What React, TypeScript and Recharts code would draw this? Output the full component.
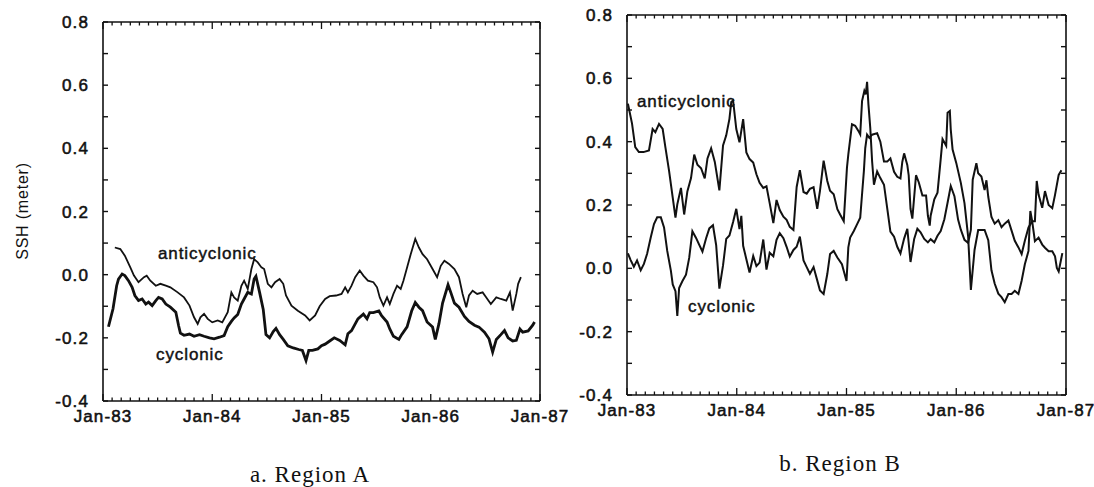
import React from "react";
import { LineChart, Line, XAxis, YAxis } from "recharts";

const INK = "#111";
const SANS = "'Liberation Sans', Arial, Helvetica, sans-serif";
const SERIF = "'Liberation Serif', 'Times New Roman', serif";

// x is months since Jan-83
const xTicks = Array.from({ length: 49 }, (_, i) => i);
const yearLabels: Record<number, string> = {
  0: "Jan-83",
  12: "Jan-84",
  24: "Jan-85",
  36: "Jan-86",
  48: "Jan-87",
};
const yTicks = [-0.4, -0.3, -0.2, -0.1, 0, 0.1, 0.2, 0.3, 0.4, 0.5, 0.6, 0.7, 0.8];
const yLabels: Record<string, string> = {
  "-0.4": "-0.4",
  "-0.2": "-0.2",
  "0.0": "0.0",
  "0.2": "0.2",
  "0.4": "0.4",
  "0.6": "0.6",
  "0.8": "0.8",
};

// Region A
const aAntiMonths = [1.3, 1.9, 2.4, 3.0, 3.4, 3.9, 4.5, 4.8, 5.2, 5.8, 6.3, 6.9, 7.4, 8.2, 8.9, 9.5, 10.0, 10.4, 10.7, 11.1, 11.5, 12.0, 12.6, 13.1, 13.7, 14.1, 14.4, 14.8, 15.2, 15.5, 15.9, 16.3, 16.6, 17.0, 17.4, 17.7, 18.1, 18.5, 18.9, 19.4, 19.8, 20.1, 20.7, 21.4, 22.2, 22.7, 23.3, 23.8, 24.4, 24.9, 25.6, 26.2, 26.6, 26.9, 27.3, 27.7, 28.2, 28.6, 29.1, 29.7, 30.1, 30.4, 30.8, 31.2, 31.5, 31.9, 32.3, 32.7, 33.0, 33.4, 33.8, 34.3, 34.7, 35.1, 35.6, 36.2, 36.7, 37.1, 37.5, 38.0, 38.6, 39.1, 39.5, 39.9, 40.2, 40.6, 41.1, 41.7, 42.1, 42.6, 43.2, 43.7, 44.3, 44.7, 45.0, 45.4, 45.6, 45.9];
const aAntiValues = [0.086, 0.081, 0.06, 0.023, -0.003, -0.024, -0.008, -0.003, -0.019, -0.035, -0.029, -0.035, -0.04, -0.056, -0.072, -0.098, -0.135, -0.156, -0.135, -0.124, -0.14, -0.151, -0.145, -0.151, -0.119, -0.056, -0.072, -0.082, -0.035, -0.019, -0.045, 0.018, 0.049, 0.039, 0.023, 0.018, -0.029, -0.04, -0.024, -0.014, -0.029, -0.066, -0.098, -0.114, -0.129, -0.145, -0.129, -0.1, -0.077, -0.068, -0.066, -0.061, -0.04, -0.056, -0.035, -0.008, 0.013, -0.003, -0.019, -0.024, -0.04, -0.072, -0.098, -0.072, -0.093, -0.061, -0.035, -0.045, -0.019, 0.023, 0.065, 0.113, 0.086, 0.065, 0.049, 0.018, -0.008, 0.028, 0.044, 0.034, 0.018, -0.008, -0.061, -0.103, -0.066, -0.051, -0.061, -0.056, -0.072, -0.093, -0.072, -0.077, -0.082, -0.056, -0.114, -0.061, -0.029, -0.008];

const aCycMonths = [0.6, 1.1, 1.5, 1.7, 2.1, 2.4, 2.8, 3.2, 3.5, 3.9, 4.3, 4.7, 5.0, 5.4, 5.8, 6.1, 6.5, 6.9, 7.4, 8.0, 8.3, 8.5, 8.9, 9.5, 10.0, 10.6, 11.1, 11.7, 12.2, 12.8, 13.3, 13.7, 14.1, 14.4, 14.8, 15.2, 15.5, 15.9, 16.3, 16.6, 16.8, 17.2, 17.6, 17.9, 18.3, 18.7, 19.0, 19.4, 19.8, 20.3, 20.9, 21.5, 21.9, 22.3, 22.6, 23.0, 23.6, 24.0, 24.4, 24.9, 25.4, 26.0, 26.6, 26.9, 27.3, 28.0, 28.6, 29.0, 29.3, 29.7, 30.3, 30.6, 31.2, 31.5, 31.9, 32.5, 32.8, 33.4, 33.9, 34.3, 34.7, 35.1, 35.6, 36.2, 36.5, 36.9, 37.3, 37.6, 37.9, 38.2, 38.6, 39.1, 39.7, 40.2, 40.8, 41.3, 41.9, 42.4, 42.8, 43.2, 43.7, 44.1, 44.5, 45.0, 45.4, 45.8, 46.1, 46.7, 47.2, 47.4];
const aCycValues = [-0.165, -0.108, -0.035, -0.014, 0.002, -0.003, -0.019, -0.04, -0.066, -0.082, -0.077, -0.093, -0.087, -0.098, -0.082, -0.072, -0.077, -0.093, -0.103, -0.119, -0.161, -0.185, -0.192, -0.188, -0.195, -0.19, -0.195, -0.2, -0.203, -0.198, -0.193, -0.165, -0.148, -0.137, -0.126, -0.093, -0.077, -0.056, -0.061, -0.014, -0.005, -0.056, -0.11, -0.19, -0.2, -0.18, -0.17, -0.19, -0.205, -0.225, -0.232, -0.237, -0.24, -0.272, -0.24, -0.24, -0.235, -0.225, -0.22, -0.21, -0.2, -0.208, -0.222, -0.187, -0.177, -0.14, -0.125, -0.14, -0.12, -0.12, -0.115, -0.13, -0.15, -0.172, -0.195, -0.205, -0.19, -0.165, -0.115, -0.088, -0.103, -0.114, -0.15, -0.166, -0.205, -0.155, -0.09, -0.061, -0.032, -0.056, -0.09, -0.103, -0.132, -0.148, -0.16, -0.166, -0.182, -0.203, -0.245, -0.205, -0.19, -0.177, -0.2, -0.21, -0.208, -0.172, -0.182, -0.178, -0.16, -0.15];

// Region B
const bAntiMonths = [0.1, 0.55, 0.9, 1.3, 1.8, 2.4, 2.8, 3.1, 3.5, 3.9, 4.2, 4.6, 5.0, 5.3, 5.5, 5.9, 6.25, 6.6, 7.0, 7.35, 7.7, 8.1, 8.5, 8.8, 9.2, 9.6, 10.1, 10.5, 10.85, 11.2, 11.4, 11.6, 11.95, 12.3, 12.7, 13.05, 13.4, 13.8, 14.15, 14.5, 14.9, 15.25, 15.6, 16.0, 16.35, 16.7, 17.1, 17.45, 17.8, 18.2, 18.55, 18.9, 19.3, 19.65, 20.0, 20.4, 20.8, 21.1, 21.5, 21.9, 22.2, 22.6, 23.0, 23.3, 23.7, 24.05, 24.2, 24.6, 24.95, 25.3, 25.5, 25.7, 25.95, 26.1, 26.25, 26.4, 26.6, 26.8, 27.0, 27.35, 27.7, 28.1, 28.45, 28.8, 29.2, 29.55, 29.9, 30.3, 30.65, 31.0, 31.4, 31.75, 32.1, 32.5, 32.9, 33.2, 33.6, 33.95, 34.3, 34.7, 35.05, 35.4, 35.8, 36.2, 36.5, 36.9, 37.3, 37.6, 37.8, 38.2, 38.4, 38.75, 39.1, 39.3, 39.5, 39.85, 40.2, 40.6, 40.95, 41.3, 41.7, 42.05, 42.4, 42.8, 43.15, 43.5, 43.9, 44.3, 44.6, 44.8, 45.0, 45.4, 45.7, 46.1, 46.5, 46.8, 47.2, 47.5];
const bAntiValues = [0.52, 0.457, 0.383, 0.367, 0.367, 0.372, 0.44, 0.43, 0.456, 0.44, 0.382, 0.308, 0.223, 0.16, 0.202, 0.254, 0.17, 0.243, 0.285, 0.359, 0.327, 0.316, 0.284, 0.347, 0.379, 0.336, 0.246, 0.388, 0.42, 0.472, 0.525, 0.53, 0.44, 0.398, 0.471, 0.366, 0.345, 0.334, 0.297, 0.27, 0.254, 0.259, 0.206, 0.143, 0.216, 0.184, 0.163, 0.153, 0.131, 0.121, 0.257, 0.31, 0.241, 0.236, 0.251, 0.256, 0.188, 0.245, 0.34, 0.276, 0.245, 0.234, 0.187, 0.17, 0.149, 0.318, 0.36, 0.455, 0.45, 0.434, 0.423, 0.528, 0.56, 0.549, 0.589, 0.517, 0.443, 0.338, 0.264, 0.306, 0.285, 0.264, 0.19, 0.116, 0.1, 0.068, 0.047, 0.094, 0.125, 0.02, 0.093, 0.125, 0.114, 0.093, 0.082, 0.092, 0.082, 0.103, 0.118, 0.155, 0.207, 0.26, 0.228, 0.154, 0.122, 0.09, 0.08, 0.122, 0.28, 0.332, 0.3, 0.29, 0.247, 0.278, 0.226, 0.162, 0.141, 0.152, 0.13, 0.141, 0.151, 0.119, 0.087, 0.066, 0.045, 0.087, 0.129, 0.149, 0.149, 0.276, 0.233, 0.191, 0.244, 0.2, 0.19, 0.232, 0.295, 0.31];

const bCycMonths = [0.1, 0.4, 0.75, 1.1, 1.5, 1.85, 2.2, 2.6, 2.95, 3.3, 3.7, 4.05, 4.4, 4.8, 5.0, 5.3, 5.5, 5.7, 6.05, 6.45, 6.8, 7.15, 7.55, 7.9, 8.25, 8.65, 9.0, 9.4, 9.75, 10.1, 10.5, 10.85, 11.2, 11.6, 11.95, 12.3, 12.5, 12.7, 13.05, 13.4, 13.8, 14.15, 14.5, 14.9, 15.25, 15.6, 16.0, 16.35, 16.7, 17.1, 17.45, 17.8, 18.2, 18.55, 18.9, 19.3, 19.65, 20.0, 20.4, 20.8, 21.1, 21.5, 21.9, 22.2, 22.6, 23.0, 23.5, 24.0, 24.2, 24.4, 24.8, 25.15, 25.5, 25.7, 25.9, 26.05, 26.25, 26.5, 26.8, 27.35, 27.7, 28.1, 28.45, 28.8, 29.2, 29.55, 29.9, 30.1, 30.3, 30.65, 30.8, 31.0, 31.2, 31.6, 31.9, 32.3, 32.7, 32.9, 33.1, 33.2, 33.6, 33.95, 34.3, 34.5, 34.9, 35.05, 35.3, 35.4, 35.6, 36.0, 36.5, 36.9, 37.3, 37.45, 37.6, 38.0, 38.4, 38.75, 39.1, 39.5, 39.85, 40.2, 40.6, 40.95, 41.3, 41.7, 42.05, 42.4, 42.8, 43.15, 43.5, 43.9, 44.1, 44.3, 44.6, 45.0, 45.4, 45.7, 46.1, 46.5, 46.8, 47.0, 47.2, 47.6];
const bCycValues = [0.047, 0.026, 0.005, 0.025, -0.006, 0.014, 0.046, 0.098, 0.14, 0.161, 0.161, 0.129, 0.055, -0.008, -0.051, -0.072, -0.15, -0.062, -0.041, -0.02, 0.033, 0.117, 0.096, 0.074, 0.053, 0.095, 0.126, 0.136, 0.073, -0.064, 0.009, 0.093, 0.104, 0.146, 0.188, 0.124, 0.166, 0.071, 0.029, -0.013, 0.039, 0.007, 0.018, 0.091, -0.004, 0.049, 0.038, 0.09, 0.111, 0.095, 0.068, 0.037, 0.058, 0.068, 0.1, 0.025, 0.004, -0.017, 0.004, -0.038, -0.07, -0.081, -0.018, 0.045, 0.055, 0.034, 0.013, -0.04, 0.066, 0.097, 0.118, 0.139, 0.16, 0.234, 0.307, 0.38, 0.422, 0.412, 0.422, 0.427, 0.4, 0.337, 0.337, 0.347, 0.305, 0.289, 0.284, 0.336, 0.363, 0.326, 0.294, 0.188, 0.157, 0.294, 0.272, 0.23, 0.23, 0.166, 0.135, 0.166, 0.218, 0.239, 0.345, 0.408, 0.387, 0.491, 0.497, 0.438, 0.375, 0.333, 0.27, 0.206, 0.1, 0.016, -0.068, 0.058, 0.121, 0.121, 0.121, 0.089, -0.006, -0.048, -0.08, -0.091, -0.107, -0.081, -0.081, -0.071, -0.081, -0.039, 0.013, 0.055, 0.181, 0.149, 0.086, 0.097, 0.075, 0.065, 0.054, 0.054, 0.038, 0.001, -0.01, 0.048];

type Series = { key: string; months: number[]; values: number[] };

function buildRows(series: Series[]) {
  const rows: Record<string, number>[] = [];
  series.forEach((s) => {
    const n = Math.min(s.months.length, s.values.length);
    for (let i = 0; i < n; i++) rows.push({ m: s.months[i], [s.key]: s.values[i] });
  });
  return rows.sort((a, b) => a.m - b.m);
}

const rowsA = buildRows([
  { key: "anti", months: aAntiMonths, values: aAntiValues },
  { key: "cyc", months: aCycMonths, values: aCycValues },
]);
const rowsB = buildRows([
  { key: "anti", months: bAntiMonths, values: bAntiValues },
  { key: "cyc", months: bCycMonths, values: bCycValues },
]);

// scanned labels look heavier than a plain regular face, so add a thin stroke
const labelStyle = {
  fontFamily: SANS,
  fontSize: 17,
  letterSpacing: 1.1,
  fill: INK,
  stroke: INK,
  strokeWidth: 0.55,
};

// tickSize/tickMargin are 0, so x,y below sit on the axis line itself
function LeftYTick(props: any) {
  const { x, y, payload } = props;
  const label = yLabels[Number(payload.value).toFixed(1)];
  return (
    <g>
      <line x1={x} x2={x + 5} y1={y} y2={y} stroke={INK} strokeWidth={1.4} />
      {label && (
        <text x={x - 14} y={y} dy="0.36em" textAnchor="end" style={labelStyle}>
          {label}
        </text>
      )}
    </g>
  );
}

function RightYTick(props: any) {
  const { x, y } = props;
  return <line x1={x} x2={x - 5} y1={y} y2={y} stroke={INK} strokeWidth={1.4} />;
}

function BottomXTick(props: any) {
  const { x, y, payload } = props;
  const label = yearLabels[payload.value];
  const len = label ? 7 : 3.5;
  return (
    <g>
      <line x1={x} x2={x} y1={y} y2={y - len} stroke={INK} strokeWidth={1.3} />
      {label && (
        <text x={x} y={y + 21} textAnchor="middle" style={labelStyle}>
          {label}
        </text>
      )}
    </g>
  );
}

function TopXTick(props: any) {
  const { x, y, payload } = props;
  const len = yearLabels[payload.value] ? 7 : 3.5;
  return <line x1={x} x2={x} y1={y} y2={y + len} stroke={INK} strokeWidth={1.3} />;
}

const axisLine = { stroke: INK, strokeWidth: 1.6 };

function Panel(props: {
  rows: Record<string, number>[];
  width: number;
  height: number;
  margin: { top: number; right: number; bottom: number; left: number };
  yWidth: number;
  antiWidth: number;
  cycWidth: number;
}) {
  const { rows, width, height, margin, yWidth, antiWidth, cycWidth } = props;
  return (
    <LineChart width={width} height={height} data={rows} margin={margin}>
      <XAxis
        xAxisId="bottom"
        dataKey="m"
        type="number"
        domain={[0, 48]}
        ticks={xTicks}
        interval={0}
        allowDataOverflow
        height={30}
        tickSize={0}
        tickMargin={0}
        tickLine={false}
        axisLine={axisLine}
        tick={BottomXTick}
      />
      <XAxis
        xAxisId="top"
        orientation="top"
        dataKey="m"
        type="number"
        domain={[0, 48]}
        ticks={xTicks}
        interval={0}
        allowDataOverflow
        height={10}
        tickSize={0}
        tickMargin={0}
        tickLine={false}
        axisLine={axisLine}
        tick={TopXTick}
      />
      <YAxis
        yAxisId="left"
        type="number"
        domain={[-0.4, 0.8]}
        ticks={yTicks}
        interval={0}
        allowDataOverflow
        width={yWidth}
        tickSize={0}
        tickMargin={0}
        tickLine={false}
        axisLine={axisLine}
        tick={LeftYTick}
      />
      <YAxis
        yAxisId="right"
        orientation="right"
        type="number"
        domain={[-0.4, 0.8]}
        ticks={yTicks}
        interval={0}
        allowDataOverflow
        width={10}
        tickSize={0}
        tickMargin={0}
        tickLine={false}
        axisLine={axisLine}
        tick={RightYTick}
      />
      <Line
        xAxisId="bottom"
        yAxisId="left"
        type="linear"
        dataKey="anti"
        stroke={INK}
        strokeWidth={antiWidth}
        dot={false}
        activeDot={false}
        connectNulls
        isAnimationActive={false}
      />
      <Line
        xAxisId="bottom"
        yAxisId="left"
        type="linear"
        dataKey="cyc"
        stroke={INK}
        strokeWidth={cycWidth}
        dot={false}
        activeDot={false}
        connectNulls
        isAnimationActive={false}
      />
    </LineChart>
  );
}

const noteStyle = {
  fontFamily: SANS,
  fontSize: 17,
  letterSpacing: 0.9,
  fill: INK,
  stroke: INK,
  strokeWidth: 0.45,
};
const captionStyle = { fontFamily: SERIF, fontSize: 23, letterSpacing: 1, fill: INK };

export default function App() {
  return (
    <div
      style={{
        position: "absolute",
        left: 0,
        top: 0,
        width: 1094,
        height: 487,
        background: "#fff",
        overflow: "hidden",
      }}
    >
      <div style={{ position: "absolute", left: 0, top: 0 }}>
        <Panel
          rows={rowsA}
          width={600}
          height={440}
          margin={{ top: 12, right: 50, bottom: 9, left: 43 }}
          yWidth={60}
          antiWidth={1.8}
          cycWidth={2.8}
        />
      </div>
      <div style={{ position: "absolute", left: 560, top: 0 }}>
        <Panel
          rows={rowsB}
          width={560}
          height={440}
          margin={{ top: 5, right: 44, bottom: 15, left: 17 }}
          yWidth={50}
          antiWidth={2}
          cycWidth={2}
        />
      </div>
      <svg
        width={1094}
        height={487}
        style={{ position: "absolute", left: 0, top: 0, pointerEvents: "none" }}
      >
        <text
          transform="translate(28, 211) rotate(-90)"
          textAnchor="middle"
          style={{ fontFamily: SANS, fontSize: 16, letterSpacing: 0.8, fill: INK }}
        >
          SSH (meter)
        </text>
        <text x={158} y={259} style={noteStyle}>anticyclonic</text>
        <text x={156} y={360} style={noteStyle}>cyclonic</text>
        <text x={637} y={107} style={noteStyle}>anticyclonic</text>
        <text x={688} y={312} style={noteStyle}>cyclonic</text>
        <text x={310} y={482} textAnchor="middle" style={captionStyle}>a. Region A</text>
        <text x={840} y={471} textAnchor="middle" style={captionStyle}>b. Region B</text>
      </svg>
    </div>
  );
}
